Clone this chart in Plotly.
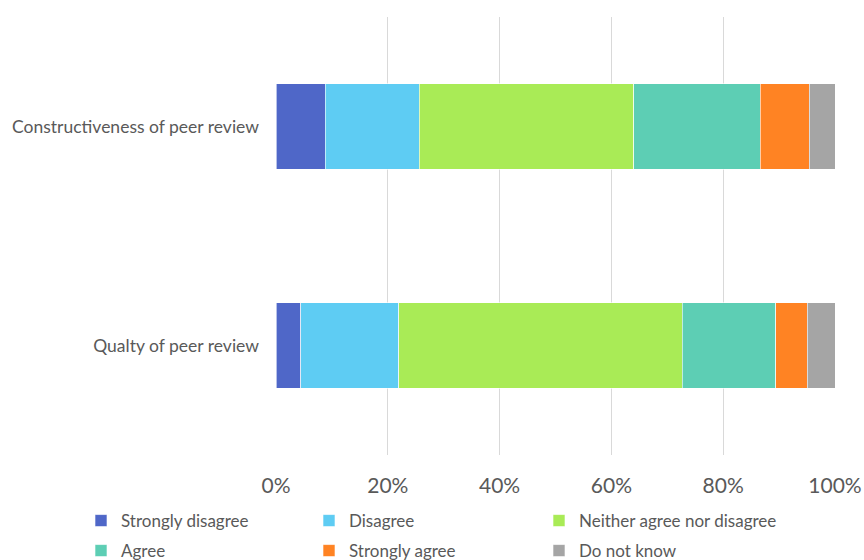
import plotly.graph_objects as go

categories = ["Qualty of peer review", "Constructiveness of peer review"]
series_names = ["Strongly disagree", "Disagree", "Neither agree nor disagree",
                "Agree", "Strongly agree", "Do not know"]
strongly_disagree = [4.4, 8.8]
disagree = [17.6, 16.8]
neither = [50.7, 38.4]
agree = [16.7, 22.6]
strongly_agree = [5.6, 8.8]
do_not_know = [5.0, 4.6]
colors = ["#4F67C8", "#5ECCF3", "#A9EB56", "#5DCEB4", "#FF8323", "#A5A5A5"]
tick_vals = [0, 20, 40, 60, 80, 100]
tick_text = ["0%", "20%", "40%", "60%", "80%", "100%"]

series_values = [strongly_disagree, disagree, neither, agree, strongly_agree, do_not_know]

# legend layout: 3 columns x 2 rows (pixel positions in the page)
legend_cols_px = [81, 309, 539, 81, 309, 539]
legend_rows_px = [521, 521, 521, 551, 551, 551]
legend_ids = ["legend", "legend2", "legend3", "legend4", "legend5", "legend6"]

fig = go.Figure()
for name, vals, col, lg in zip(series_names, series_values, colors, legend_ids):
    fig.add_trace(go.Bar(
        y=categories, x=vals, name=name, orientation="h",
        marker=dict(color=col, line=dict(color="rgba(255,255,255,0.6)", width=1)),
        width=0.39, legend=lg,
    ))

W, H = 864, 560
legend_layout = {}
for lg, lx, ly in zip(legend_ids, legend_cols_px, legend_rows_px):
    legend_layout[lg] = dict(
        orientation="h", xref="container", yref="container",
        x=lx / W, y=1 - ly / H, xanchor="left", yanchor="middle",
        font=dict(size=17, color="#595959"), itemwidth=30,
        bgcolor="rgba(0,0,0,0)", borderwidth=0,
    )

fig.update_layout(
    barmode="stack",
    width=W, height=H,
    margin=dict(l=276, r=29, t=17, b=105, autoexpand=False),
    plot_bgcolor="white", paper_bgcolor="white",
    font=dict(family="Lato, Open Sans, sans-serif", color="#595959"),
    xaxis=dict(range=[0, 100], tickvals=tick_vals, ticktext=tick_text,
               showgrid=True, gridcolor="#D9D9D9", gridwidth=1,
               zeroline=False, showline=False, ticks="", automargin=False,
               tickfont=dict(size=21, color="#595959"), ticklabelstandoff=16),
    yaxis=dict(range=[-0.5, 1.5], showgrid=False, zeroline=False, showline=False,
               ticks="", automargin=False,
               tickfont=dict(size=17.5, color="#595959"), ticklabelstandoff=16),
    showlegend=True,
    **legend_layout,
)

fig.write_html("out.html")
